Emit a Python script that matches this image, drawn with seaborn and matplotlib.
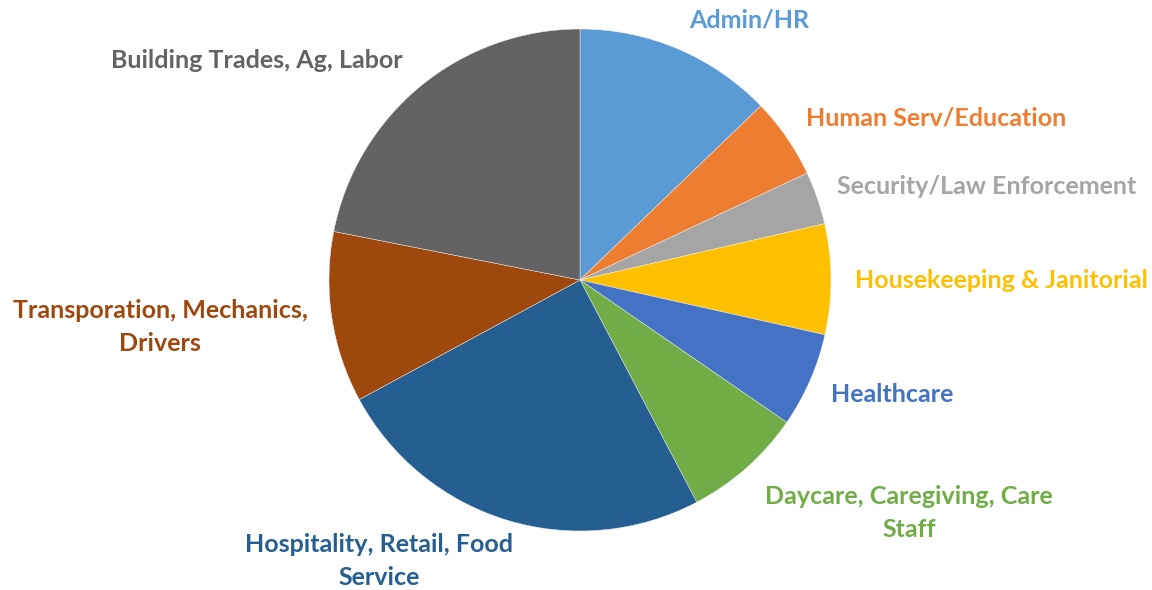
import matplotlib.pyplot as plt
import seaborn as sns

# share of each sector (clockwise from 12 o'clock)
sectors = [
    "Admin/HR",
    "Human Serv/Education",
    "Security/Law Enforcement",
    "Housekeeping & Janitorial",
    "Healthcare",
    "Daycare, Caregiving, Care\nStaff",
    "Hospitality, Retail, Food\nService",
    "Transporation, Mechanics,\nDrivers",
    "Building Trades, Ag, Labor",
]
shares = [12.8, 5.2, 3.4, 7.1, 6.1, 7.7, 24.8, 11.0, 21.9]

colors = ["#5B9BD5", "#ED7D31", "#A5A5A5", "#FFC000", "#4472C4",
          "#70AD47", "#255E91", "#9E480E", "#636363"]

# label centres in image pixels (x, y from top)
label_pos = [(749, 20), (936, 118), (987, 187), (1001, 280), (892, 395),
             (909, 513), (379, 561), (160, 327), (257, 60)]

W, H = 1152, 590
sns.set_style("white")
plt.rcParams["font.family"] = ["Lato", "DejaVu Sans"]

fig = plt.figure(figsize=(W / 100, H / 100), dpi=100)
ax = fig.add_axes([0, 0, 1, 1])

ax.pie(shares, colors=colors, startangle=90, counterclock=False,
       center=(580, H - 280), radius=251,
       wedgeprops=dict(edgecolor="#f4f4f4", linewidth=0.3))

for name, (x, y), c in zip(sectors, label_pos, colors):
    ax.text(x, H - y, name, color=c, fontsize=18, fontweight="bold",
            ha="center", va="center", multialignment="center", linespacing=1.52)

ax.set_xlim(0, W)
ax.set_ylim(0, H)
ax.set_aspect("equal")
ax.axis("off")

fig.savefig("out.png", dpi=100, facecolor="white")
